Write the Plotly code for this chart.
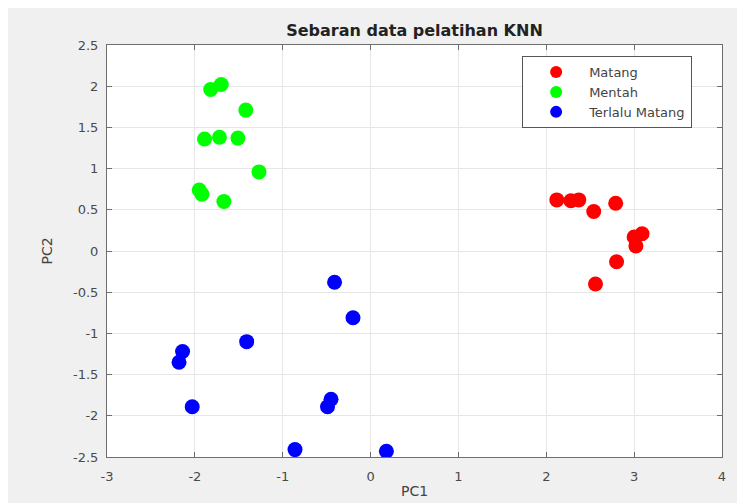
import plotly.graph_objects as go

matang_x = [2.12, 2.28, 2.37, 2.54, 2.79, 3.09, 3.00, 3.02, 2.80, 2.56]
matang_y = [0.62, 0.61, 0.62, 0.48, 0.58, 0.21, 0.17, 0.06, -0.13, -0.40]

mentah_x = [-1.82, -1.70, -1.42, -1.89, -1.72, -1.51, -1.27, -1.95, -1.92, -1.67]
mentah_y = [1.96, 2.02, 1.71, 1.36, 1.38, 1.37, 0.96, 0.74, 0.69, 0.60]

terlalu_x = [-0.41, -0.20, -1.41, -2.14, -2.18, -2.03, -0.45, -0.49, -0.86, 0.18]
terlalu_y = [-0.38, -0.81, -1.10, -1.22, -1.35, -1.89, -1.80, -1.89, -2.41, -2.43]

series = [
    ("Matang", matang_x, matang_y, "#ff0000"),
    ("Mentah", mentah_x, mentah_y, "#00ff00"),
    ("Terlalu Matang", terlalu_x, terlalu_y, "#0000ff"),
]

x_ticks = [-3, -2, -1, 0, 1, 2, 3, 4]
y_ticks = [-2.5, -2, -1.5, -1, -0.5, 0, 0.5, 1, 1.5, 2, 2.5]

fig = go.Figure()
for name, xs, ys, col in series:
    fig.add_trace(go.Scatter(x=xs, y=ys, mode="markers", name=name,
                             marker=dict(color=col, size=15, line=dict(width=0))))

font = "DejaVu Sans, Verdana, sans-serif"
W, H = 745, 503
L, R, T, B = 99, 31, 37, 54
axis_common = dict(showline=True, linecolor="#6e6e6e", linewidth=1, mirror="ticks",
                   ticks="inside", ticklen=5, tickcolor="#6e6e6e",
                   showgrid=True, gridcolor="#e6e6e6", gridwidth=1, zeroline=False,
                   tickfont=dict(size=13, color="#4a4a4a", family=font))

fig.update_layout(
    width=W, height=H,
    paper_bgcolor="#f0f0f0", plot_bgcolor="#ffffff",
    margin=dict(l=L, r=R, t=T, b=B, autoexpand=False),
    title=dict(text="<b>Sebaran data pelatihan KNN</b>",
               x=(L + (W - L - R) / 2) / W, xanchor="center",
               y=1 - 22 / H, yanchor="middle",
               font=dict(size=16, color="#222222", family=font)),
    xaxis=dict(range=[-3, 4], tickvals=x_ticks, ticktext=[str(v) for v in x_ticks],
               ticklabelstandoff=7,
               title=dict(text="PC1", font=dict(size=14, color="#444444", family=font), standoff=3),
               **axis_common),
    yaxis=dict(range=[-2.5, 2.5], tickvals=y_ticks, ticktext=[("%g" % v) for v in y_ticks],
               ticklabelstandoff=5,
               title=dict(text="PC2", font=dict(size=14, color="#444444", family=font), standoff=17),
               **axis_common),
    legend=dict(x=0.675, y=0.973, xanchor="left", yanchor="top",
                bgcolor="#ffffff", bordercolor="#555555", borderwidth=1,
                font=dict(size=13, color="#444444", family=font),
                itemwidth=56, itemsizing="constant", tracegroupgap=0),
    showlegend=True,
)

fig.write_html("out.html")
